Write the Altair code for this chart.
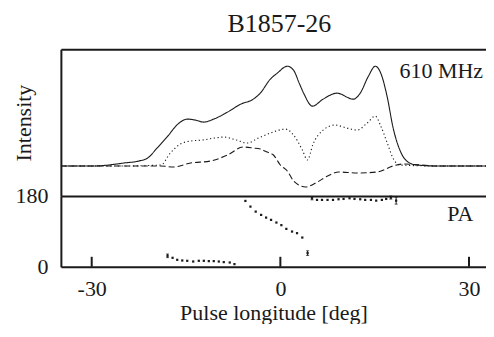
import altair as alt
import pandas as pd

# ---- total intensity (solid) ----
i_lon = [-34.9, -30, -26, -24.9, -22.5, -21.1, -19.6, -17.9, -16.3, -14.8, -13.5, -12.2,
         -10.6, -8.4, -6.3, -4.3, -3.2, -1.6, -0.5, 1.1, 2.1, 3.0, 3.7, 5.1, 6.8, 9.0,
         11.6, 12.7, 14.0, 15.1, 15.9, 17.0, 17.9, 19.0, 20.3, 21.7, 25, 30, 32.7]
i_val = [0.0, 0.0, 0.02, 0.03, 0.05, 0.08, 0.18, 0.30, 0.42, 0.47, 0.46, 0.44,
         0.47, 0.54, 0.62, 0.67, 0.73, 0.87, 0.93, 1.0, 0.96, 0.83, 0.73, 0.60, 0.67, 0.73,
         0.67, 0.73, 0.90, 1.0, 0.94, 0.69, 0.39, 0.16, 0.04, 0.01, 0.0, 0.0, 0.0]

# ---- linear polarization (dotted) ----
l_lon = [-34.9, -25, -19.0, -17.5, -15.9, -14.3, -12.4, -10.5, -9.0, -7.0,
         -5.3, -3.5, -1.6, 0.8, 2.1, 3.5, 4.3, 5.2, 6.8, 8.7,
         10.6, 12.2, 13.8, 15.1, 15.9, 17.0, 17.9, 19.0, 25, 32.7]
l_val = [0.0, 0.0, 0.01, 0.13, 0.22, 0.25, 0.26, 0.28, 0.29, 0.26,
         0.23, 0.28, 0.33, 0.37, 0.31, 0.16, 0.06, 0.22, 0.36, 0.41,
         0.38, 0.36, 0.43, 0.50, 0.41, 0.23, 0.08, 0.01, 0.0, 0.0]

# ---- circular polarization (dashed) ----
v_lon = [-34.9, -25, -19.0, -17.0, -14.3, -11.1, -8.4, -5.9, -4.3, -3.2,
         -2.1, -1.1, 0.0, 1.1, 2.1, 2.9, 4.0, 5.9, 7.5, 9.3,
         12.2, 15.4, 17.9, 19.5, 25, 32.7]
v_val = [0.0, 0.0, 0.0, -0.01, 0.03, 0.05, 0.11, 0.19, 0.18, 0.17,
         0.14, 0.11, 0.01, -0.05, -0.15, -0.19, -0.21, -0.16, -0.10, -0.06,
         -0.07, -0.06, 0.0, 0.02, 0.0, 0.0]

# ---- polarization position angle ----
pa_lon = [-17.94, -17.14, -16.40, -15.60, -14.81, -13.86, -12.97, -12.17, -11.38, -10.59,
          -9.79, -9.00, -8.05, -7.30,
          -5.56, -4.76, -3.92, -3.06, -2.27, -1.48, -0.63, 0.16, 0.95, 1.86, 2.65, 3.49, 4.33,
          5.03, 5.83, 6.62, 7.50, 8.37, 9.25, 10.05, 11.00, 11.79, 12.70, 13.49, 14.40,
          15.24, 16.14, 16.83, 17.57, 18.41]
pa_deg = [27.9, 22.8, 17.7, 16.0, 15.2, 13.4, 15.2, 15.2, 14.4, 14.4,
          13.4, 11.9, 10.9, 6.8,
          167.3, 152.9, 140.2, 131.8, 125.0, 119.2, 112.4, 105.8, 96.3, 89.5, 85.4, 74.3, 34.7,
          174.1, 169.9, 169.9, 169.9, 169.9, 171.6, 172.4, 174.1, 172.4, 171.6, 169.9, 169.9,
          168.1, 169.9, 172.4, 175.9, 168.1]
pa_err = [4.6, 0, 0, 0, 0, 0, 0, 0, 0, 0,
          0, 0, 0, 0,
          0, 0, 0, 0, 0, 0, 0, 0, 0, 0, 0, 0, 6.0,
          4.0, 0, 0, 0, 0, 0, 0, 0, 0, 0, 0, 0,
          0, 0, 0, 4.0, 9.0]

x_ticks = [-30, 0, 30]
pa_ticks = [0, 180]

FONT = "Liberation Serif"
INK = "#1a1a1a"
W = 426
H_TOP = 147
H_PA = 71

xs = alt.Scale(domain=[-34.9, 32.7], nice=False, zero=False)
ys_top = alt.Scale(domain=[-0.3, 1.17], nice=False, zero=False)
ys_pa = alt.Scale(domain=[0, 180], nice=False, zero=False)

prof = pd.concat([
    pd.DataFrame({"lon": i_lon, "val": i_val, "comp": "I"}),
    pd.DataFrame({"lon": l_lon, "val": l_val, "comp": "L"}),
    pd.DataFrame({"lon": v_lon, "val": v_val, "comp": "V"}),
], ignore_index=True)

top_x_axis = alt.Axis(orient="top", labels=False, ticks=False, title=None, grid=False,
                      domainWidth=2, domainColor=INK)
top_y_axis = alt.Axis(title="Intensity", labels=False, ticks=False, grid=False,
                      domainWidth=2, domainColor=INK, titlePadding=25)

lines = alt.Chart(prof).mark_line(strokeWidth=1.1, color=INK, interpolate="monotone", clip=True).encode(
    x=alt.X("lon:Q", scale=xs, axis=top_x_axis),
    y=alt.Y("val:Q", scale=ys_top, axis=top_y_axis),
    detail="comp:N",
    strokeDash=alt.StrokeDash("comp:N", legend=None,
                              scale=alt.Scale(domain=["I", "L", "V"],
                                              range=[[1, 0], [1.2, 2.6], [6, 3]])),
)
freq = alt.Chart(pd.DataFrame({"lon": [25.6], "val": [0.95], "t": ["610 MHz"]})).mark_text(
    font=FONT, fontSize=22, color=INK, align="center", baseline="middle").encode(
    x=alt.X("lon:Q", scale=xs, axis=top_x_axis),
    y=alt.Y("val:Q", scale=ys_top, axis=top_y_axis),
    text="t:N",
)
top = alt.layer(lines, freq).properties(width=W, height=H_TOP)

pa = pd.DataFrame({"lon": pa_lon, "deg": pa_deg, "err": pa_err})

bot_x_axis = alt.Axis(orient="bottom", values=x_ticks, ticks=False, grid=False,
                      title="Pulse longitude [deg]", domainWidth=2, domainColor=INK,
                      labelPadding=12, titlePadding=3, labelFlush=False,
                      labelExpr="toString(datum.value)")
pa_x_top = alt.Axis(orient="top", labels=False, ticks=False, title=None, grid=False,
                    domainWidth=2, domainColor=INK)
pa_y_axis = alt.Axis(values=pa_ticks, title=None, ticks=False, grid=False,
                     domainWidth=2, domainColor=INK, labelPadding=13, labelFlush=False)

dots = alt.Chart(pa).mark_square(size=5, color=INK, opacity=1).encode(
    x=alt.X("lon:Q", scale=xs, axis=bot_x_axis),
    y=alt.Y("deg:Q", scale=ys_pa, axis=pa_y_axis),
)
errs = alt.Chart(pa).transform_filter("datum.err > 0").transform_calculate(
    lo="datum.deg - datum.err", hi="datum.deg + datum.err")
err_rule = errs.mark_rule(strokeWidth=1, color=INK).encode(
    x=alt.X("lon:Q", scale=xs, axis=None),
    y=alt.Y("lo:Q", scale=ys_pa, axis=pa_y_axis),
    y2="hi:Q",
)
cap_lo = errs.mark_tick(orient="horizontal", size=3, thickness=1, color=INK).encode(
    x=alt.X("lon:Q", scale=xs, axis=None),
    y=alt.Y("lo:Q", scale=ys_pa, axis=pa_y_axis),
)
cap_hi = errs.mark_tick(orient="horizontal", size=3, thickness=1, color=INK).encode(
    x=alt.X("lon:Q", scale=xs, axis=None),
    y=alt.Y("hi:Q", scale=ys_pa, axis=pa_y_axis),
)
pa_label = alt.Chart(pd.DataFrame({"lon": [28.6], "deg": [134], "t": ["PA"]})).mark_text(
    font=FONT, fontSize=22, color=INK, align="center", baseline="middle").encode(
    x=alt.X("lon:Q", scale=xs, axis=None),
    y=alt.Y("deg:Q", scale=ys_pa, axis=pa_y_axis),
    text="t:N",
)
tick_marks = alt.Chart(pd.DataFrame({"lon": x_ticks})).mark_rule(strokeWidth=2, color=INK).encode(
    x=alt.X("lon:Q", scale=xs, axis=pa_x_top),
    y=alt.value(H_PA - 10),
    y2=alt.value(H_PA),
)
bottom = alt.layer(dots, err_rule, cap_lo, cap_hi, pa_label, tick_marks).resolve_axis(
    x="independent").properties(width=W, height=H_PA)

chart = alt.vconcat(top, bottom, spacing=0, bounds="flush").properties(
    title=alt.TitleParams("B1857-26", font=FONT, fontSize=26, fontWeight="normal",
                          color=INK, anchor="middle", offset=12, dx=30),
    padding={"left": 5, "top": 3, "right": 0, "bottom": 0},
).configure_view(stroke=None).configure_axis(
    labelFont=FONT, labelFontSize=22, labelColor=INK,
    titleFont=FONT, titleFontSize=22, titleFontWeight="normal", titleColor=INK,
)

chart.save("out.html", embed_options={"renderer": "svg", "actions": False})
